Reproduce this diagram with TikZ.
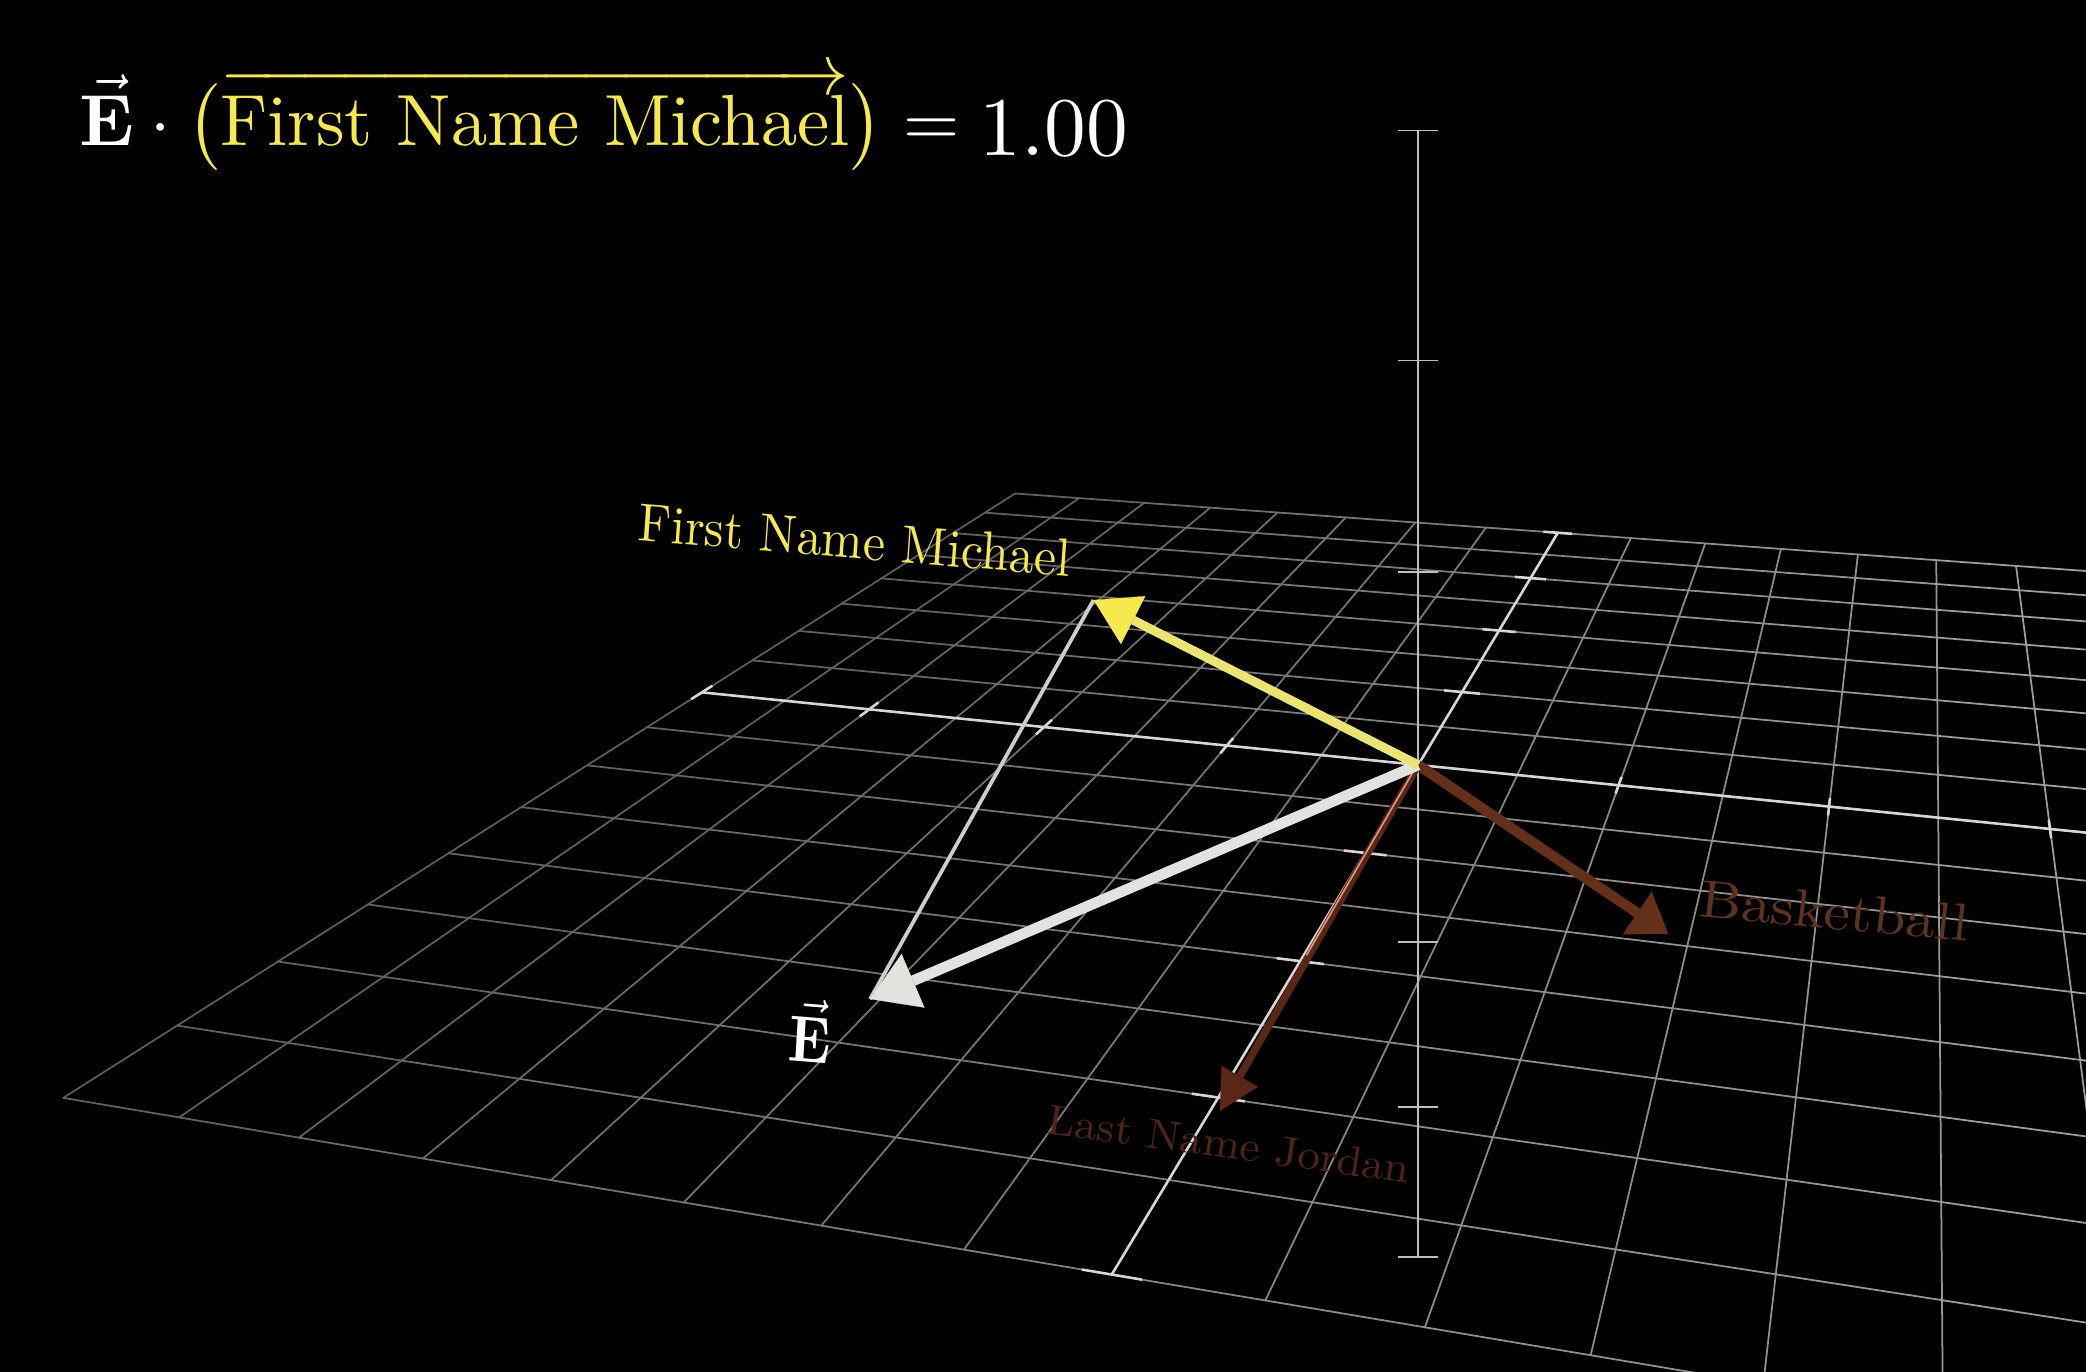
\documentclass[tikz,border=0pt]{standalone}
\usepackage{amsmath}
\usetikzlibrary{arrows.meta,calc}

\definecolor{axiscol}{RGB}{214,214,214}
\definecolor{zaxiscol}{RGB}{190,190,190}
\definecolor{michaelcol}{RGB}{247,232,76}
\definecolor{michaelshaft}{RGB}{236,228,112}
\definecolor{ecol}{RGB}{226,226,222}
\definecolor{projcol}{RGB}{205,205,205}
\definecolor{ballcol}{RGB}{100,48,26}
\definecolor{balltext}{RGB}{94,50,30}
\definecolor{jordancol}{RGB}{90,38,22}
\definecolor{jordantext}{RGB}{80,34,24}
\definecolor{jordanglint}{RGB}{222,150,120}

\begin{document}
\begin{tikzpicture}[x=0.02cm,y=-0.02cm,
  declare function={
    pden(\pu,\pv)=1-0.02342*\pu+0.09347*\pv;
    px(\pu,\pv)=(122.24*\pu+135.7*\pv+1066)/pden(\pu,\pv);
    py(\pu,\pv)=(1.45*\pu-6.2*\pv+575)/pden(\pu,\pv);},
  gridline/.style={line width=0.75pt},
  axisline/.style={axiscol,line width=1.1pt},
  zaxis/.style={zaxiscol,line width=0.7pt}]
  \useasboundingbox (0,0) rectangle (1568,1031);
  \fill[black] (0,0) rectangle (1568,1031);
  \clip (0,0) rectangle (1568,1031);
  % plane grid, half units, dimmer far to the left
  \foreach \k in {-4,-3.5,...,4} {
    \pgfmathtruncatemacro\lev{36+3.6*(\k+4)}
    \draw[gridline,white!\lev!black] ({px(\k,-4)},{py(\k,-4)}) -- ({px(\k,4)},{py(\k,4)});
  }
  \foreach \v in {-4,-3.5,...,4}
    \foreach \k in {-4,-3.5,...,3.5} {
      \pgfmathtruncatemacro\lev{38+3.6*(\k+4)}
      \draw[gridline,white!\lev!black,line cap=round] ({px(\k,\v)},{py(\k,\v)}) -- ({px(\k+0.5,\v)},{py(\k+0.5,\v)});
    }
  % axes in the plane
  \draw[axisline] ({px(-4,0)},{py(-4,0)}) -- ({px(4,0)},{py(4,0)});
  \draw[axisline] ({px(0,-4)},{py(0,-4)}) -- ({px(0,4)},{py(0,4)});
  \foreach \k in {-4,-3,-2,-1,1,2,3,4} {
    \draw[axisline] ({px(\k,-0.1)},{py(\k,-0.1)}) -- ({px(\k,0.1)},{py(\k,0.1)});
    \draw[axisline] ({px(-0.1,\k)},{py(-0.1,\k)}) -- ({px(0.1,\k)},{py(0.1,\k)});
  }
  % vertical axis
  \draw[zaxis] (1066,98) -- (1066,945);
  \foreach \h in {98,271,430,708,832,945} \draw[zaxis] (1051,\h) -- (1081,\h);

  \coordinate (O) at ({px(0,0)},{py(0,0)});
  \coordinate (michaeltip) at (822,451);
  \coordinate (etip) at (654,751);
  \coordinate (balltip) at (1254,702);
  \coordinate (jordantip) at (917,835);

  \draw[line width=4.4pt,ballcol,-{Triangle[length=16pt,width=22pt,line width=0.1pt]}] (O) -- (balltip);
  \draw[line width=3.2pt,jordancol,-{Triangle[length=17pt,width=18pt,line width=0.1pt]}] (O) -- (jordantip);
  \draw[jordanglint,line width=0.7pt] ($(O)+(-2,2)$) -- ($(O)!0.55!(jordantip)+(-2,0)$);
  \draw[projcol,line width=1.6pt] (etip) -- (michaeltip);
  \draw[line width=4.6pt,ecol,-{Triangle[length=20pt,width=25pt,line width=0.1pt]}] (O) -- (etip);
  \draw[line width=3.9pt,michaelshaft,-{Triangle[length=19pt,width=23pt,line width=0.1pt,fill=michaelcol,color=michaelcol]}] (O) -- (michaeltip);

  \node[text=michaelcol,xscale=2.13,yscale=2.3,rotate=-4.4,anchor=base] (michaellabel) at (641.5,419.7) {First Name Michael};
  \node[text=white,xscale=2.4,yscale=2.8,rotate=-4] (elabel) at (609.5,775) {$\vec{\mathbf{E}}$};
  \node[text=balltext,xscale=2.54,yscale=2.25,rotate=-5.9,anchor=base] (balllabel) at (1377.4,698.4) {Basketball};
  \node[text=jordantext,xscale=1.93,yscale=1.8,rotate=-8.3,anchor=base] (jordanlabel) at (922,870.6) {Last Name Jordan};

  \node[anchor=base west,text=white,scale=3.1,inner sep=0pt] (title) at (59,109) {$\vec{\mathbf{E}}\cdot{\color{michaelcol}\bigl(\overrightarrow{\text{First Name Michael}}\bigr)}=\raisebox{-1.4pt}{\scalebox{1.15}{$1.00$}}$};
\end{tikzpicture}
\end{document}
